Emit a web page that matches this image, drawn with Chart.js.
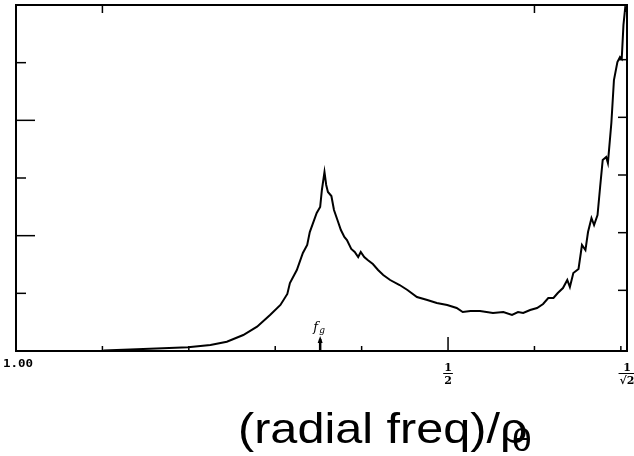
<!DOCTYPE html>
<html>
<head>
<meta charset="utf-8">
<script src="https://cdn.jsdelivr.net/npm/chart.js@4.4.0/dist/chart.umd.min.js"></script>
<style>
html,body{margin:0;padding:0;background:#fff;}
#wrap{width:634px;height:456px;}
</style>
</head>
<body>
<div id="wrap"><canvas id="c" width="634" height="456"></canvas></div>
<script>
// radial frequency (fraction of rho_theta)
const freqs = [0.101,0.132,0.170,0.199,0.225,0.244,0.263,0.279,0.294,0.306,0.314,0.317,0.325,0.332,0.337,0.340,0.348,0.352,0.354,0.357,0.359,0.361,0.365,0.368,0.372,0.376,0.380,0.383,0.388,0.392,0.396,0.399,0.403,0.407,0.413,0.419,0.425,0.433,0.444,0.453,0.464,0.476,0.487,0.499,0.510,0.517,0.526,0.537,0.552,0.564,0.574,0.581,0.587,0.595,0.603,0.610,0.616,0.622,0.627,0.633,0.638,0.641,0.645,0.651,0.655,0.659,0.662,0.666,0.669,0.673,0.676,0.679,0.683,0.685,0.689,0.692,0.696,0.699,0.701,0.703,0.705,0.706];
// spectral level (arbitrary units, 6 divisions)
const levels = [0.009,0.026,0.047,0.064,0.104,0.161,0.277,0.421,0.624,0.798,0.989,1.179,1.405,1.699,1.838,2.063,2.393,2.497,2.792,3.104,2.879,2.757,2.688,2.445,2.272,2.098,1.977,1.925,1.769,1.717,1.630,1.717,1.630,1.578,1.509,1.405,1.318,1.231,1.144,1.058,0.936,0.884,0.832,0.798,0.746,0.676,0.694,0.694,0.659,0.676,0.624,0.676,0.659,0.711,0.746,0.815,0.919,0.919,1.006,1.092,1.231,1.110,1.352,1.422,1.838,1.751,2.063,2.306,2.185,2.358,2.844,3.312,3.364,3.260,3.953,4.699,5.010,5.097,5.063,5.653,5.948,5.879];
const xTicks = [0.1,0.2,0.3,0.4,0.5,0.6,0.7];
const xTopTicks = [0.1,0.6];
const yTicks = [1,2,3,4,5];
const fgValue = 0.352;
const xMax = Math.SQRT1_2;
const yMax = 6;
const originLabel = "1.00";
const titleMain = "(radial freq)/ρ";
const titleSub = "θ";

const points = freqs.map((f,i)=>({x:f,y:levels[i]}));

const framePlugin = {
  id:'frame',
  afterDraw(chart){
    const ctx = chart.ctx, a = chart.chartArea;
    const xs = chart.scales.x, ys = chart.scales.y;
    ctx.save();
    ctx.strokeStyle = '#000';
    ctx.lineWidth = 2;
    ctx.strokeRect(a.left, a.top, a.right-a.left, a.bottom-a.top);
    // bottom ticks (inward)
    ctx.lineWidth = 1.5;
    xTicks.forEach(v=>{
      const px = xs.getPixelForValue(v);
      const len = (v===0.5)?14:5;
      ctx.beginPath(); ctx.moveTo(px,a.bottom); ctx.lineTo(px,a.bottom-len); ctx.stroke();
    });
    xTopTicks.forEach(v=>{
      const px = xs.getPixelForValue(v);
      ctx.beginPath(); ctx.moveTo(px,a.top); ctx.lineTo(px,a.top+8); ctx.stroke();
    });
    yTicks.forEach(v=>{
      const py = ys.getPixelForValue(v);
      const len = (v===2||v===4)?19:10;
      ctx.beginPath(); ctx.moveTo(a.left,py); ctx.lineTo(a.left+len,py); ctx.stroke();
      ctx.beginPath(); ctx.moveTo(a.right,py-3); ctx.lineTo(a.right-9,py-3); ctx.stroke();
    });
    // f_g arrow
    const fx = xs.getPixelForValue(fgValue);
    ctx.lineWidth = 2.5;
    ctx.beginPath(); ctx.moveTo(fx,a.bottom+1); ctx.lineTo(fx,a.bottom-12); ctx.stroke();
    ctx.beginPath(); ctx.moveTo(fx-2.5,a.bottom-8); ctx.lineTo(fx,a.bottom-15); ctx.lineTo(fx+2.5,a.bottom-8); ctx.closePath(); ctx.fillStyle='#000'; ctx.fill();
    ctx.fillStyle = '#000';
    ctx.font = 'italic 13px "DejaVu Serif", serif';
    ctx.textAlign='left'; ctx.textBaseline='alphabetic';
    ctx.fillText('f', fx-7, a.bottom-20);
    ctx.font = 'italic 9px "DejaVu Serif", serif';
    ctx.fillText('g', fx-1, a.bottom-18);
    // origin label
    ctx.save();
    ctx.translate(3, a.bottom+13);
    ctx.scale(1.25,1);
    ctx.font = 'bold 10px "DejaVu Sans Mono", monospace';
    ctx.textAlign='left'; ctx.textBaseline='middle';
    ctx.fillText(originLabel, 0, 0);
    ctx.restore();
    // fraction labels
    const frac = (v, num, den)=>{
      const px = xs.getPixelForValue(v);
      ctx.font = 'bold 11px "DejaVu Serif", serif';
      ctx.textAlign='center'; ctx.textBaseline='alphabetic';
      ctx.fillText(num, px, a.bottom+20);
      ctx.lineWidth = 1;
      const w = ctx.measureText(den).width;
      ctx.beginPath(); ctx.moveTo(px-Math.max(w,6)/2-1,a.bottom+22.5); ctx.lineTo(px+Math.max(w,6)/2+1,a.bottom+22.5); ctx.stroke();
      ctx.fillText(den, px, a.bottom+33);
    };
    frac(0.5,'1','2');
    frac(xMax,'1','√2');
    // axis title
    ctx.save();
    ctx.translate(238, 443);
    ctx.scale(1.13,1);
    ctx.font = '43px "Liberation Sans", Arial, sans-serif';
    ctx.textAlign='left'; ctx.textBaseline='alphabetic';
    ctx.fillText(titleMain, 0, 0);
    const w = ctx.measureText(titleMain).width;
    ctx.font = '32px "Liberation Sans", Arial, sans-serif';
    ctx.fillText(titleSub, w-14, 8);
    ctx.restore();
    ctx.restore();
  }
};

new Chart(document.getElementById('c'), {
  type:'line',
  data:{datasets:[{data:points,borderColor:'#000',borderWidth:2,pointRadius:0,tension:0,fill:false}]},
  options:{
    responsive:false,animation:false,
    layout:{padding:{left:16,right:7,top:5,bottom:105}},
    plugins:{legend:{display:false},tooltip:{enabled:false}},
    scales:{
      x:{type:'linear',min:0,max:xMax,display:false},
      y:{type:'linear',min:0,max:yMax,display:false}
    }
  },
  plugins:[framePlugin]
});
</script>
</body>
</html>
